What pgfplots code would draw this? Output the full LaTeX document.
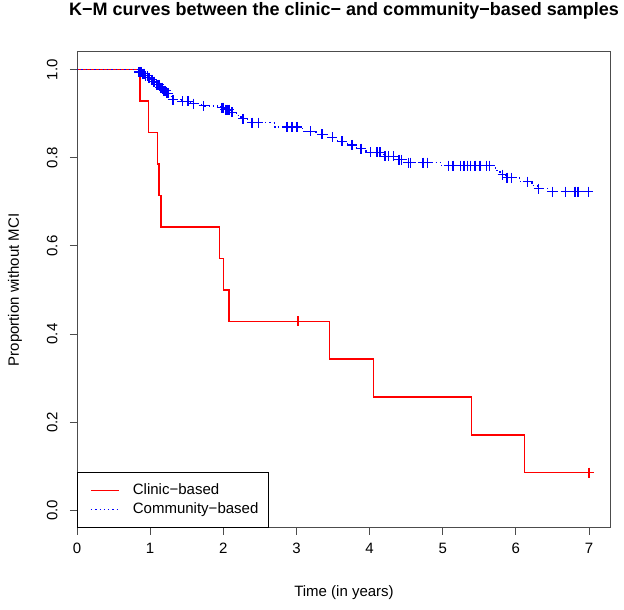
\documentclass[border=0pt]{standalone}
\usepackage{pgfplots}
\pgfplotsset{compat=1.18}
\usepackage{fontspec}
\setmainfont{Liberation Sans}
\definecolor{axgray}{rgb}{0.3,0.3,0.3}
\definecolor{kmred}{rgb}{1,0,0}
\definecolor{kmblue}{rgb}{0,0,1}
\begin{document}
\begin{tikzpicture}
\path[use as bounding box] (0bp,0bp) rectangle (624bp,610bp);
\begin{axis}[
  at={(77bp,82bp)}, anchor=south west,
  scale only axis, width=534bp, height=476bp,
  clip=false,
  xmin=0, xmax=7.3, ymin=-0.04, ymax=1.04,
  xtick={0,1,...,7}, ytick={0,0.2,0.4,0.6,0.8,1.0},
  yticklabel style={/pgf/number format/fixed, /pgf/number format/fixed zerofill, /pgf/number format/precision=1},
  /pgf/number format/assume math mode=true,
  tick align=outside, major tick length=7bp,
  xtick pos=bottom, ytick pos=left,
  axis line style={axgray, line width=1bp},
  every tick/.style={axgray, line width=1bp},
  ticklabel style={font=\fontsize{15bp}{18bp}\selectfont},
  xticklabel shift=5bp,
  yticklabel style={rotate=90, anchor=south},
  yticklabel shift=9bp,
  xlabel={Time (in years)},
  ylabel={Proportion without MCI},
  label style={font=\fontsize{15bp}{18bp}\selectfont},
  xlabel style={at={(axis description cs:0.5,-0.1366)}, anchor=center},
  ylabel style={at={(axis description cs:-0.1161,0.5)}, anchor=center},
  title={K\textminus M curves between the clinic\textminus{} and community\textminus based samples},
  title style={at={(axis description cs:0.5,1.0735)}, anchor=center, font=\bfseries\fontsize{18bp}{21bp}\selectfont},
  legend style={at={(axis cs:0,-0.04)}, anchor=south west, draw=black, line width=0.8bp,
    font=\fontsize{15bp}{18bp}\selectfont, inner xsep=9bp, inner ysep=9.5bp,
    nodes={inner sep=1.5bp, text height=11bp, text depth=3bp}, row sep=2bp},
  legend cell align=left,
  legend image code/.code={\draw[#1] (4.5bp,0bp) -- (32.5bp,0bp); \path[draw=none] (0bp,0bp) -- (45bp,0bp);},
]
\addplot[color=kmred, line width=1.5bp, const plot, mark=none] table {
x y
0 1.0
0.86 0.9286
0.975 0.8571
1.10 0.7857
1.12 0.7143
1.15 0.6429
1.95 0.5714
2.00 0.5
2.08 0.4286
3.45 0.3429
4.05 0.2571
5.39 0.1714
6.12 0.0857
7.0 0.0857
};
\addlegendentry{Clinic\textminus based}
\addplot[color=kmblue, line width=1.5bp, dash pattern=on 1.3bp off 3bp, const plot, mark=none] table {
x y
0 1.0
0.84 0.995
0.89 0.991
0.93 0.986
0.97 0.982
1.01 0.977
1.04 0.973
1.08 0.966
1.13 0.959
1.18 0.952
1.22 0.946
1.27 0.939
1.30 0.932
1.43 0.928
1.55 0.923
1.70 0.918
1.97 0.914
2.02 0.909
2.10 0.903
2.18 0.896
2.24 0.889
2.33 0.880
2.70 0.870
3.08 0.860
3.27 0.853
3.42 0.846
3.56 0.837
3.70 0.829
3.82 0.821
3.95 0.812
4.20 0.803
4.36 0.796
4.50 0.789
4.98 0.782
5.72 0.771
5.78 0.762
5.86 0.755
6.05 0.746
6.22 0.737
6.30 0.730
6.45 0.723
7.0 0.723
};
\addlegendentry{Community\textminus based}
\addplot[only marks, mark=+, color=kmred, mark size=5bp, line width=1.4bp, forget plot] coordinates {
(3.02,0.4286) (7.0,0.0857)};
\addplot[only marks, mark=+, color=kmblue, mark size=5bp, line width=1.4bp, forget plot] coordinates {
(0.85,0.995) (0.87,0.995) (0.88,0.995) (0.90,0.991) (0.92,0.991) (0.94,0.986)
(0.96,0.986) (0.98,0.982) (0.99,0.982) (1.02,0.977) (1.03,0.977) (1.05,0.973)
(1.06,0.973) (1.09,0.966) (1.11,0.966) (1.12,0.966) (1.14,0.959) (1.16,0.959)
(1.19,0.952) (1.21,0.952) (1.23,0.946) (1.25,0.946) (1.31,0.932) (1.44,0.928)
(1.52,0.928) (1.59,0.923) (1.73,0.918) (1.98,0.914) (2.00,0.914) (2.03,0.909)
(2.05,0.909) (2.08,0.909) (2.12,0.903) (2.27,0.889) (2.39,0.880) (2.48,0.880)
(2.87,0.870) (2.94,0.870) (3.01,0.870) (3.19,0.860) (3.35,0.853) (3.49,0.846)
(3.62,0.837) (3.76,0.829) (3.88,0.821) (4.01,0.812) (4.10,0.812) (4.14,0.812)
(4.21,0.803) (4.26,0.803) (4.33,0.803) (4.40,0.796) (4.44,0.796) (4.53,0.789)
(4.56,0.789) (4.73,0.789) (4.79,0.789) (5.08,0.782) (5.14,0.782) (5.24,0.782)
(5.29,0.782) (5.34,0.782) (5.38,0.782) (5.44,0.782) (5.51,0.782) (5.60,0.782)
(5.64,0.782) (5.82,0.762) (5.88,0.755) (5.94,0.755) (6.16,0.746) (6.31,0.730)
(6.50,0.723) (6.68,0.723) (6.81,0.723) (6.85,0.723) (6.99,0.723)};
\end{axis}
\end{tikzpicture}
\end{document}
